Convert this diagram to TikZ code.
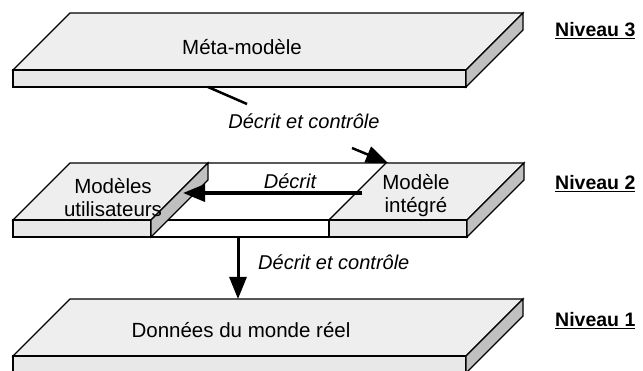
\documentclass[tikz,border=0pt]{standalone}
\usepackage{fontspec}
\setmainfont{Liberation Sans}
\usetikzlibrary{arrows.meta}
\definecolor{topgrey}{HTML}{EEEEEE}
\definecolor{frontgrey}{HTML}{E8E8E8}
\definecolor{sidegrey}{HTML}{C0C0C0}
% slab: front face from x=#1 to x=#2, front top at y=#3; depth 57, thickness 17
\newcommand\drawslab[3]{%
  \path[faceline,fill=topgrey] (#1,#3) -- ++(57,-57) -- ({#2+57},{#3-57}) -- (#2,#3) -- cycle;
  \path[faceline,fill=frontgrey] (#1,#3) rectangle (#2,{#3+17});
  \path[faceline,fill=sidegrey] (#2,#3) -- ++(57,-57) -- ++(0,17) -- ({#2},{#3+17}) -- cycle;
}
\begin{document}
\begin{tikzpicture}[x=1pt,y=-1pt,
  faceline/.style={draw=black,line width=1.1pt,line join=miter},
  label/.style={font=\fontsize{20.5}{23}\selectfont,align=center,inner sep=0pt},
  linklabel/.style={font=\itshape\fontsize{20}{22}\selectfont,inner sep=0pt},
  levellabel/.style={font=\bfseries\fontsize{19.5}{22}\selectfont,anchor=west,inner sep=0pt},
  link/.style={draw=black,line width=#1},
  tip/.style={-{Triangle[length=22pt,width=17pt]}}
]
\useasboundingbox (0,0) rectangle (643,371);

% Niveau 3
\drawslab{13}{466}{70}
% Niveau 2: white middle plate, then the two grey slabs
\path[faceline,fill=white] (151,220) -- (208,163) -- (387,163) -- (329,220) -- cycle;
\path[faceline,fill=white] (151,220) rectangle (329,237);
\drawslab{13}{151}{220}
\drawslab{329}{467}{220}
% Niveau 1
\drawslab{13}{466}{356}

% texts on the slabs
\node[label] (meta) at (242,47) {Méta-modèle};
\node[label] (users) at (113,198) {Modèles\\utilisateurs};
\node[label] (integ) at (416,196) {Modèle\\intégré};
\node[label] (data) at (241,330) {Données du monde réel};

% level names
\node[levellabel] (niv3) at (555,31) {\underline{Niveau 3}};
\node[levellabel] (niv2) at (555,184) {\underline{Niveau 2}};
\node[levellabel] (niv1) at (555,321) {\underline{Niveau 1}};

% meta-model -> integrated model
\coordinate (metaout) at (208,87);
\coordinate (gapin) at (247,104);
\coordinate (gapout) at (352,148);
\coordinate (integin) at (388,163);
\draw[link=2.5pt] (metaout) -- (gapin);
\draw[link=2.5pt,tip] (gapout) -- (integin);
\node[linklabel] (lbl32) at (304,121) {Décrit et contrôle};

% integrated model -> user models
\coordinate (integout) at (362,193);
\coordinate (usersin) at (183,193);
\draw[link=3.5pt,tip] (integout) -- (usersin);
\node[linklabel,anchor=south] (lbldesc) at (290,189) {Décrit};

% level 2 -> level 1
\coordinate (midout) at (238,237);
\coordinate (datain) at (238,299);
\draw[link=3pt,tip] (midout) -- (datain);
\node[linklabel,anchor=west] (lbl21) at (258,262) {Décrit et contrôle};
\end{tikzpicture}
\end{document}
